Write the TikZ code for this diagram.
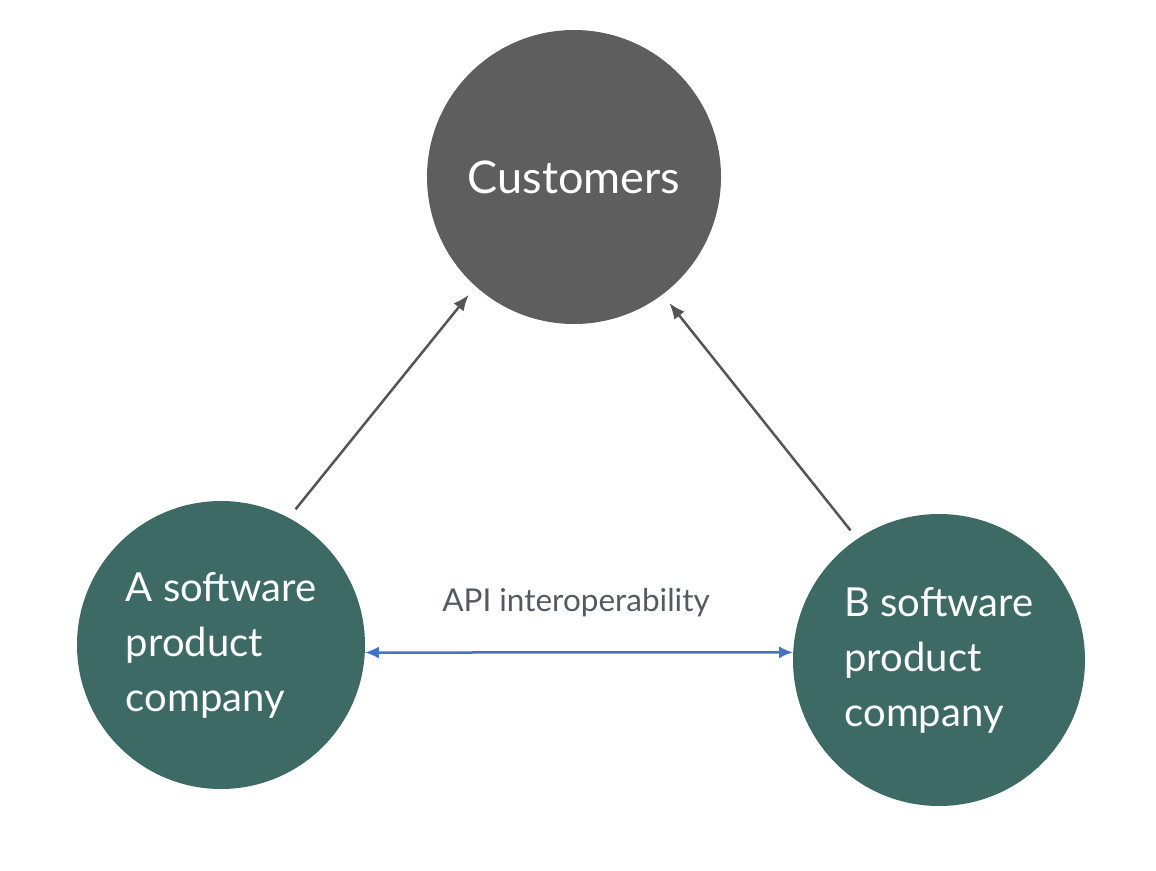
\documentclass[tikz,border=0pt]{standalone}
\usepackage{fontspec}
\setmainfont{Lato}
\usetikzlibrary{arrows.meta}
\definecolor{custgray}{RGB}{94,94,94}
\definecolor{compteal}{RGB}{61,106,101}
\definecolor{arrgray}{RGB}{85,85,85}
\definecolor{apiblue}{RGB}{68,114,196}
\definecolor{labgray}{RGB}{85,90,97}

\begin{document}
\begin{tikzpicture}[x=1pt, y=-1pt,
      circ/.style={circle, minimum size=290pt, inner sep=0pt, outer sep=0pt,
                   text=white, align=left},
      arr/.style={-{Latex[length=16pt, width=13pt]}, line width=2.5pt, draw=arrgray,
                  shorten <=11pt, shorten >=11pt},
      api/.style={{Latex[length=14pt, width=12pt]}-{Latex[length=14pt, width=12pt]},
                  line width=2.5pt, draw=apiblue}]

    \useasboundingbox (0,0) rectangle (1156,870);

    \node[circ, fill=custgray, minimum size=294pt,
          font=\fontsize{45}{54}\selectfont] (cust) at (574,177) {Customers};
    \node[circ, fill=compteal, minimum size=288pt,
          font=\fontsize{40}{55}\selectfont] (compa) at (221,645)
          {A software\\product\\company};
    \node[circ, fill=compteal, minimum size=292pt,
          font=\fontsize{40}{55}\selectfont] (compb) at (939,660)
          {B software\\product\\company};

    \node[text=labgray, font=\fontsize{31.5}{38}\selectfont] (apilab) at (576,603)
          {API interoperability};

    \draw[arr] (compa.62) -- (cust.228);
    \draw[arr] (compb.124) -- (cust.307);
    \draw[api] (compa.-3) -- (compb.177);
  \end{tikzpicture}
\end{document}
